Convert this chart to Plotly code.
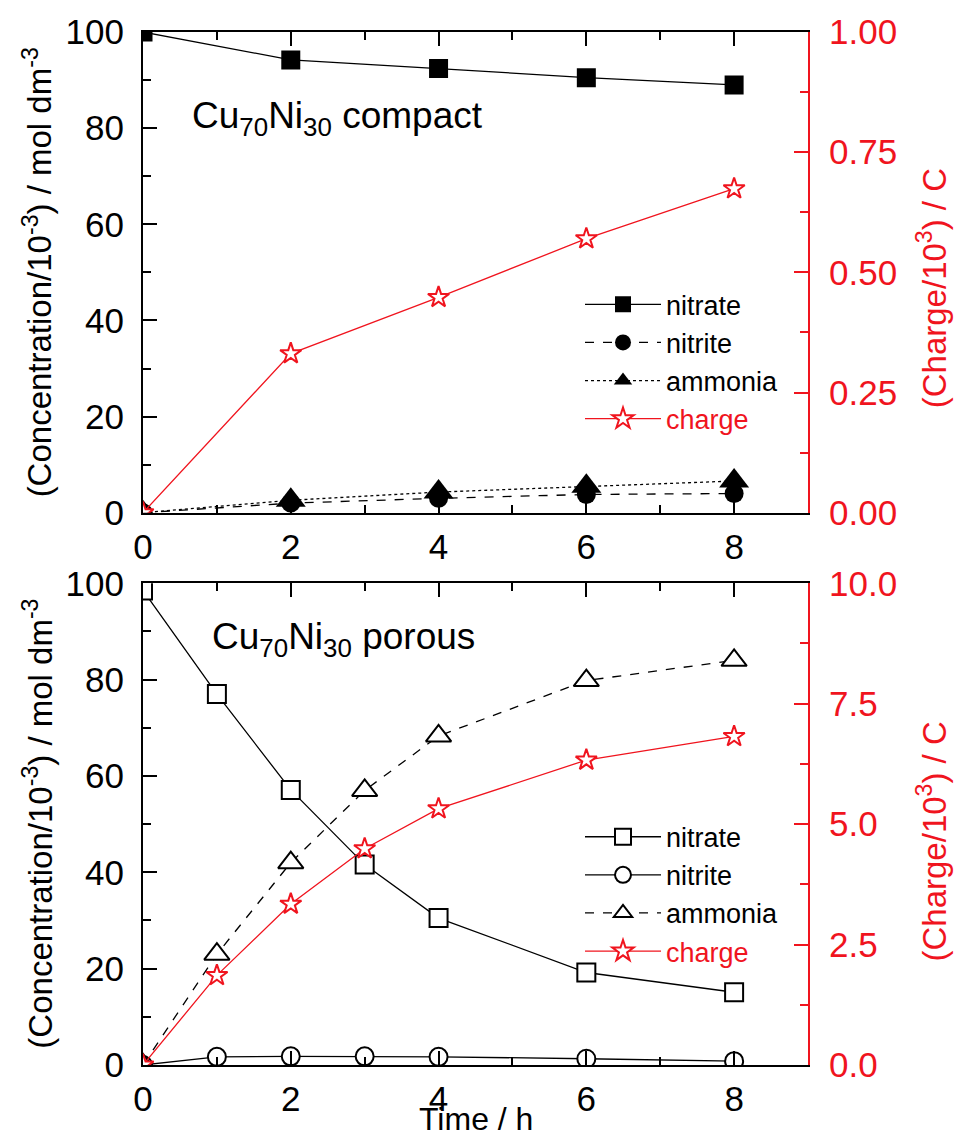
import plotly.graph_objects as go

# ---------------- data ----------------
# Cu70Ni30 compact (top panel)
time_compact = [0, 2, 4, 6, 8]
nitrate_compact = [100, 94.2, 92.4, 90.5, 89.0]
nitrite_compact = [0, 2.0, 3.0, 3.8, 4.0]
ammonia_compact = [0, 2.6, 4.3, 5.5, 6.6]
charge_compact = [0, 0.331, 0.448, 0.570, 0.674]

# Cu70Ni30 porous (bottom panel)
time_porous = [0, 1, 2, 3, 4, 6, 8]
nitrate_porous = [98.5, 77.0, 57.1, 41.6, 30.5, 19.2, 15.1]
nitrite_porous = [0, 1.7, 1.8, 1.8, 1.7, 1.3, 0.8]
ammonia_porous = [0, 23.0, 42.0, 57.0, 68.3, 79.8, 84.0]
charge_porous = [0, 1.86, 3.34, 4.49, 5.32, 6.33, 6.82]

x_ticks = [0, 2, 4, 6, 8]
conc_ticks = [0, 20, 40, 60, 80, 100]
charge_ticks_top = [0, 0.25, 0.5, 0.75, 1.0]
charge_ticks_top_text = ["0.00", "0.25", "0.50", "0.75", "1.00"]
charge_ticks_bot = [0, 2.5, 5.0, 7.5, 10.0]
charge_ticks_bot_text = ["0.0", "2.5", "5.0", "7.5", "10.0"]

# ---------------- style ----------------
W, H = 954, 1139
ML, MR, MT, MB = 143, 146, 25, 74
PW = W - ML - MR
PH = H - MT - MB
FONT = "Liberation Sans, Arial, sans-serif"
RED = "#f0141e"
BLACK = "black"
TICKFONT = 35


def px_x(px):
    return (px - ML) / PW


def px_y(py):
    return 1 - (py - MT) / PH


top_dom = [px_y(509), 1.0]
bot_dom = [0.0, px_y(580)]

fig = go.Figure()


def add(x, y, name, xa, ya, symbol, size, color, dash, filled, legend, lw=1.3):
    mk = dict(symbol=symbol, size=size)
    if filled:
        mk.update(color=color, line=dict(color=color, width=0))
    else:
        mk.update(color="white", line=dict(color=color, width=2))
    fig.add_trace(go.Scatter(
        x=x, y=y, name=name, xaxis=xa, yaxis=ya, mode="lines+markers",
        line=dict(color=color, width=lw, dash=dash), marker=mk, legend=legend,
    ))


# top panel
add(time_compact, nitrate_compact, "nitrate", "x", "y", "square", 19, BLACK, "solid", True, "legend")
add(time_compact, nitrite_compact, "nitrite", "x", "y", "circle", 19, BLACK, "dash", True, "legend")
add(time_compact, ammonia_compact, "ammonia", "x", "y", "triangle-up", 26, BLACK, "dot", True, "legend")
add(time_compact, charge_compact, '<span style="color:%s">charge</span>' % RED, "x", "y2",
    "star", 16, RED, "solid", False, "legend")

# bottom panel
add(time_porous, nitrate_porous, "nitrate", "x2", "y3", "square", 18, BLACK, "solid", False, "legend2")
add(time_porous, nitrite_porous, "nitrite", "x2", "y3", "circle", 18, BLACK, "solid", False, "legend2")
add(time_porous, ammonia_porous, "ammonia", "x2", "y3", "triangle-up", 22, BLACK, "dash", False, "legend2")
add(time_porous, charge_porous, '<span style="color:%s">charge</span>' % RED, "x2", "y4",
    "star", 16, RED, "solid", False, "legend2")


def xaxis(domain_anchor):
    return dict(
        anchor=domain_anchor, domain=[0, 1], range=[0, 9],
        tickvals=x_ticks, ticks="inside", ticklen=14, tickwidth=2, tickcolor=BLACK,
        minor=dict(dtick=1, tick0=0, ticks="inside", ticklen=8, tickwidth=2, tickcolor=BLACK),
        showline=True, linewidth=2, linecolor=BLACK, mirror="ticks",
        showgrid=False, zeroline=False,
        tickfont=dict(size=TICKFONT, color=BLACK, family=FONT),
        ticklabelstandoff=2,
    )


def yleft(anchor, domain):
    return dict(
        anchor=anchor, domain=domain, range=[0, 100],
        tickvals=conc_ticks, ticks="inside", ticklen=14, tickwidth=2, tickcolor=BLACK,
        minor=dict(dtick=10, tick0=0, ticks="inside", ticklen=8, tickwidth=2, tickcolor=BLACK),
        showline=True, linewidth=2, linecolor=BLACK, mirror=False,
        showgrid=False, zeroline=False,
        tickfont=dict(size=TICKFONT, color=BLACK, family=FONT),
        ticklabelstandoff=10,
    )


def yright(anchor, overlay, rng, vals, texts, minor_dt):
    return dict(
        anchor=anchor, overlaying=overlay, side="right", range=rng,
        tickvals=vals, ticktext=texts, ticks="inside", ticklen=14, tickwidth=2, tickcolor=RED,
        minor=dict(dtick=minor_dt, tick0=0, ticks="inside", ticklen=8, tickwidth=2, tickcolor=RED),
        showline=True, linewidth=2, linecolor=RED,
        showgrid=False, zeroline=False,
        tickfont=dict(size=TICKFONT, color=RED, family=FONT),
        ticklabelstandoff=12,
    )


legend_common = dict(
    font=dict(size=27, color=BLACK, family=FONT),
    bgcolor="rgba(0,0,0,0)", borderwidth=0,
    xanchor="left", yanchor="top", itemwidth=76, tracegroupgap=0,
)

fig.update_layout(
    width=W, height=H,
    margin=dict(l=ML, r=MR, t=MT, b=MB),
    paper_bgcolor="white", plot_bgcolor="white",
    font=dict(family=FONT, color=BLACK),
    xaxis=xaxis("y"),
    yaxis=yleft("x", top_dom),
    yaxis2=yright("x", "y", [0, 1], charge_ticks_top, charge_ticks_top_text, 0.125),
    xaxis2=xaxis("y3"),
    yaxis3=yleft("x2", bot_dom),
    yaxis4=yright("x2", "y3", [0, 10], charge_ticks_bot, charge_ticks_bot_text, 1.25),
    legend=dict(x=px_x(580), y=px_y(275), **legend_common),
    legend2=dict(x=px_x(580), y=px_y(811), **legend_common),
    showlegend=True,
)

ann_font = dict(size=37, color=BLACK, family=FONT)
title_font = dict(size=33, color=BLACK, family=FONT)
annotations = [
    dict(text="Cu<sub>70</sub>Ni<sub>30</sub> compact", x=px_x(190), y=px_y(112),
         xanchor="left", yanchor="middle", font=ann_font),
    dict(text="Cu<sub>70</sub>Ni<sub>30</sub> porous", x=px_x(210), y=px_y(636),
         xanchor="left", yanchor="middle", font=ann_font),
    dict(text="(Concentration/10<sup>-3</sup>) / mol dm<sup>-3</sup>", x=px_x(38), y=px_y(267),
         xanchor="center", yanchor="middle", textangle=-90, font=title_font),
    dict(text="(Concentration/10<sup>-3</sup>) / mol dm<sup>-3</sup>", x=px_x(38), y=px_y(822),
         xanchor="center", yanchor="middle", textangle=-90, font=title_font),
    dict(text="(Charge/10<sup>3</sup>) / C", x=px_x(932), y=px_y(283),
         xanchor="center", yanchor="middle", textangle=-90, font=dict(size=33, color=RED, family=FONT)),
    dict(text="(Charge/10<sup>3</sup>) / C", x=px_x(932), y=px_y(840),
         xanchor="center", yanchor="middle", textangle=-90, font=dict(size=33, color=RED, family=FONT)),
    dict(text="Time / h", x=px_x(476), y=px_y(1119),
         xanchor="center", yanchor="middle", font=dict(size=32, color=BLACK, family=FONT)),
]
for a in annotations:
    a.update(xref="paper", yref="paper", showarrow=False)
fig.update_layout(annotations=annotations)

fig.write_html("out.html")
